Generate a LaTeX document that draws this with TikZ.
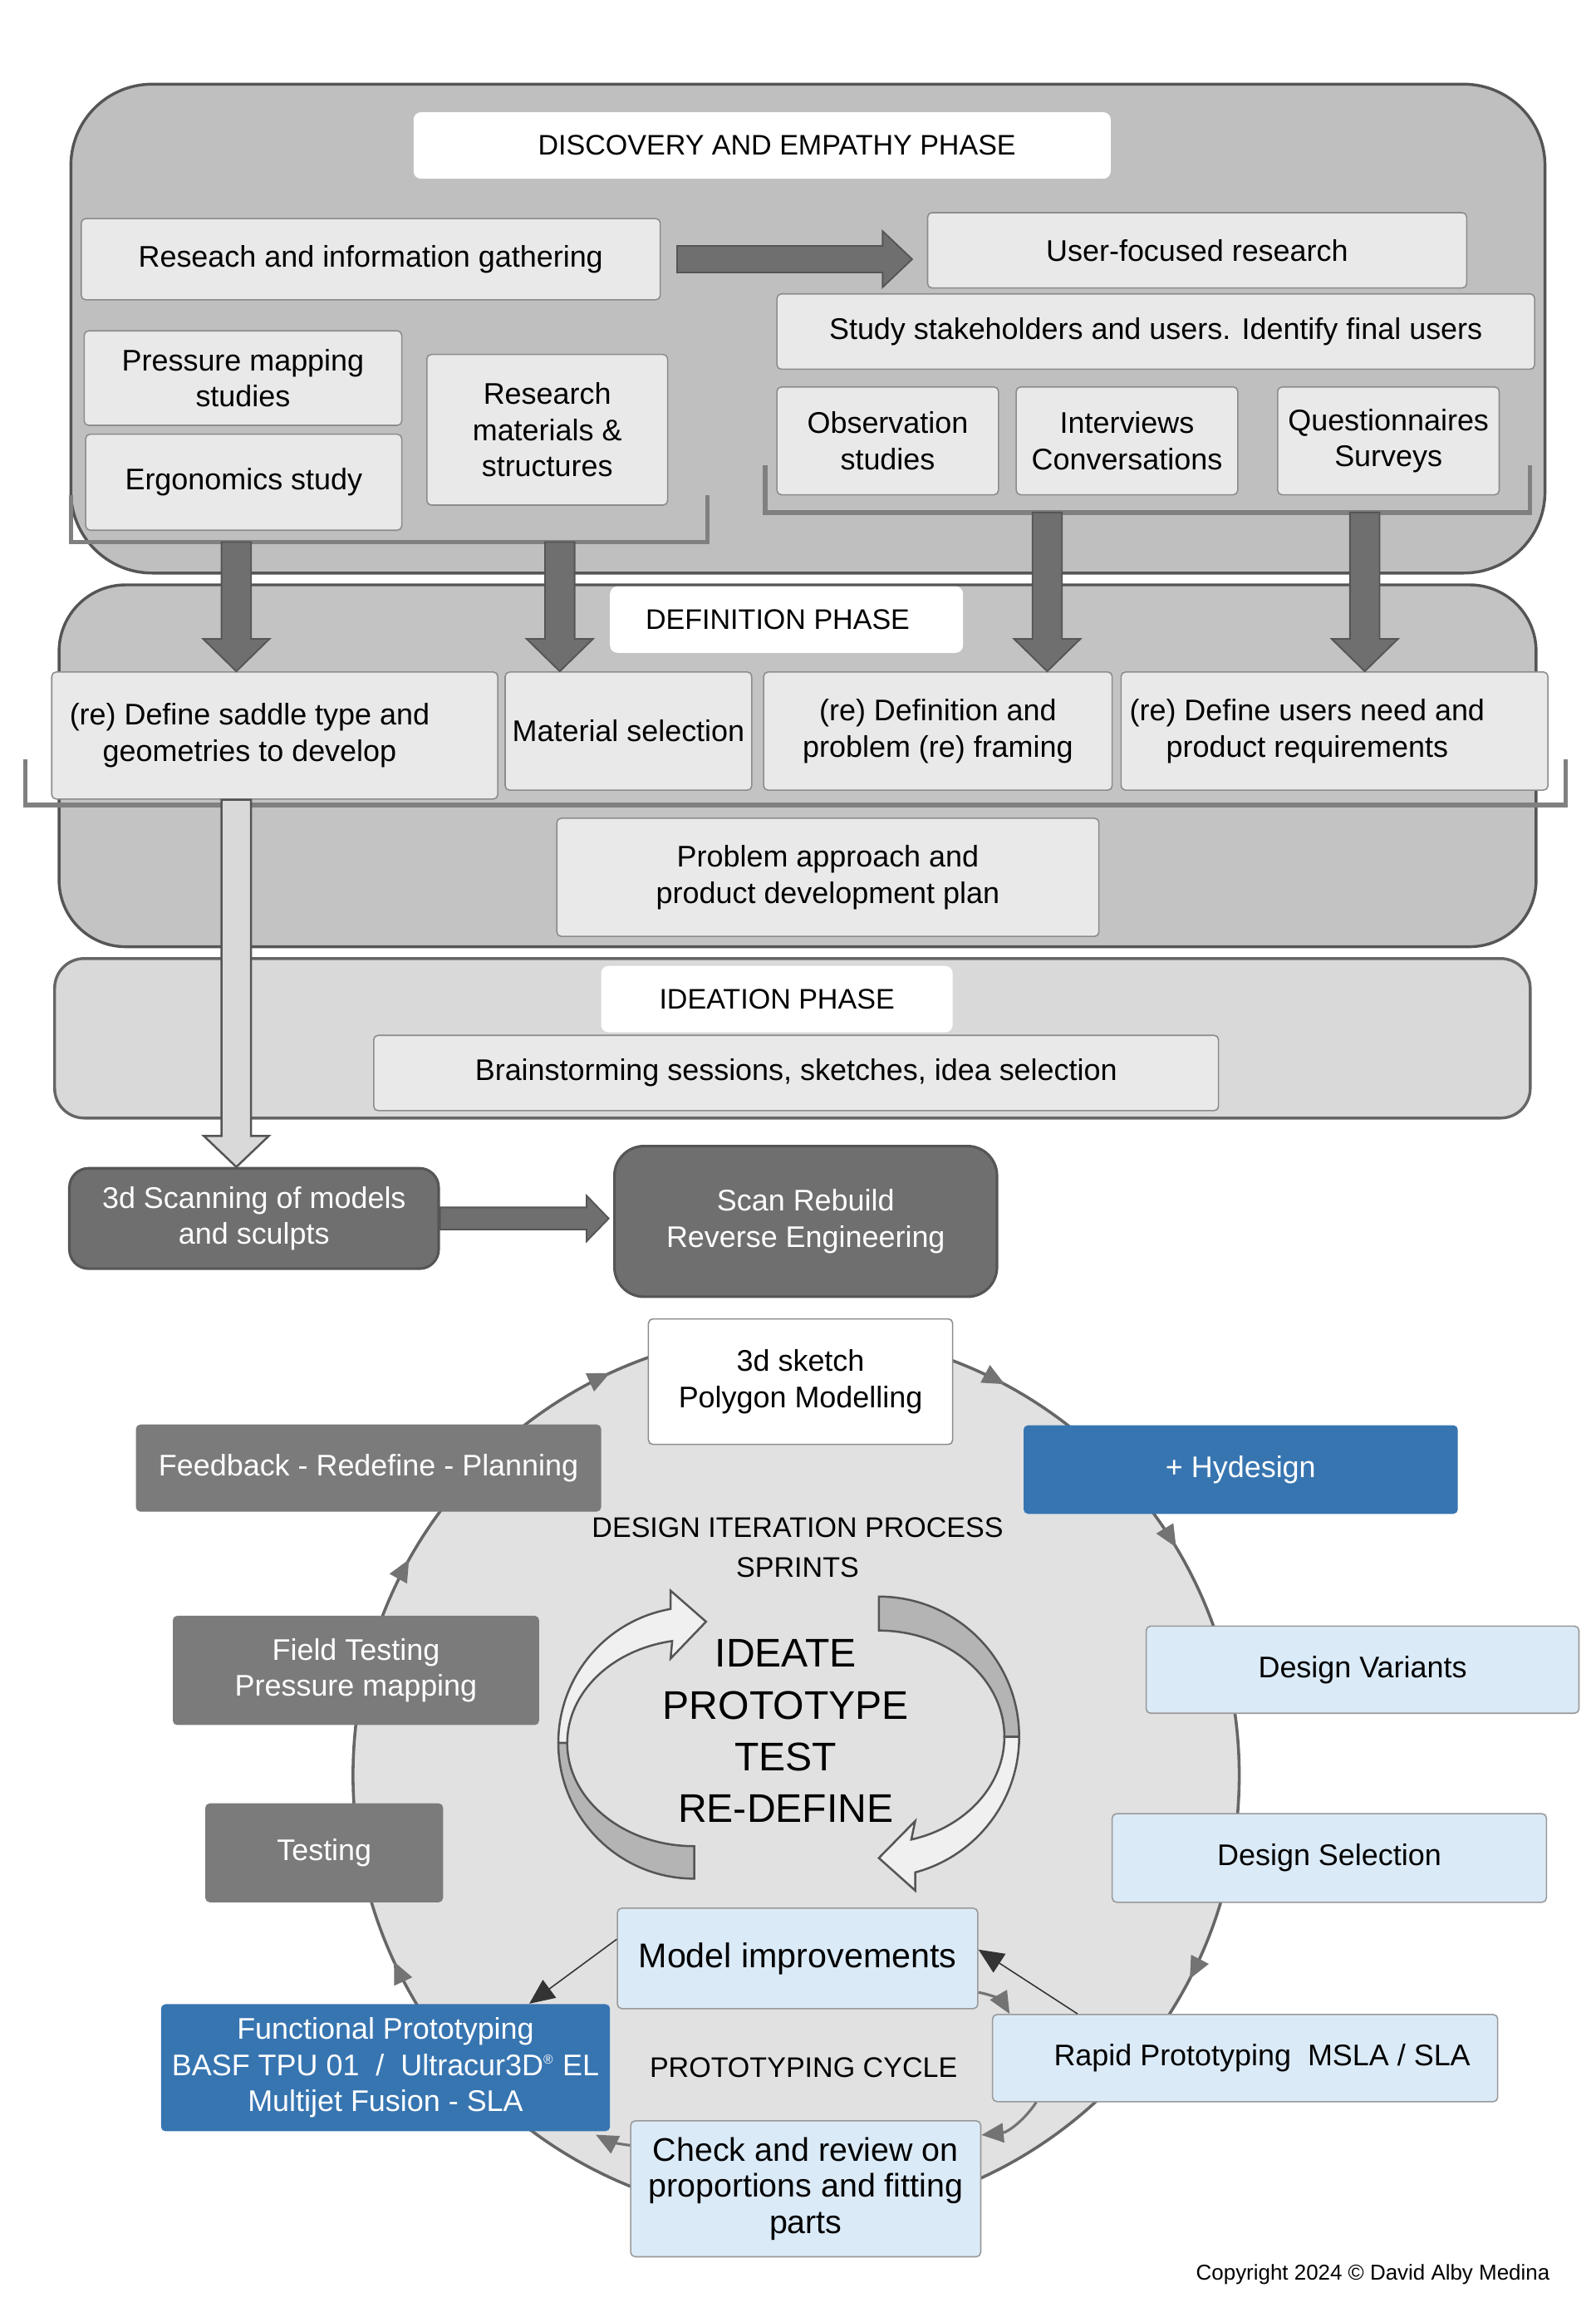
\documentclass[tikz,border=0pt]{standalone}
\usepackage{fontspec}
\setmainfont{Liberation Sans}
\usetikzlibrary{arrows.meta,calc,decorations.markings}
\definecolor{phasegray}{HTML}{BFBFBF}
\definecolor{defgray}{HTML}{C3C3C3}
\definecolor{ideagray}{HTML}{D9D9D9}
\definecolor{itemgray}{HTML}{E9E9E9}
\definecolor{edgegray}{HTML}{555555}
\definecolor{arrowgray}{HTML}{6F6F6F}
\definecolor{darkbox}{HTML}{7B7B7B}
\definecolor{hyblue}{HTML}{3775B1}
\definecolor{paleblue}{HTML}{DBEAF7}
\definecolor{ringgray}{HTML}{E1E1E1}
\definecolor{ribbongray}{HTML}{B4B4B4}
\definecolor{ribbonlight}{HTML}{F0F0F0}
\newcommand{\boxfont}{\fontsize{11.5}{13.9}\selectfont}
\newcommand{\capfont}{\fontsize{10.9}{15.4}\selectfont}
\tikzset{
  sz/.style 2 args={minimum width=#1*0.2mm, minimum height=#2*0.2mm},
  phasebox/.style={draw=edgegray, line width=1.1pt, inner sep=0pt},
  phasetitle/.style={fill=white, rounded corners=1mm, inner sep=0pt, font=\capfont},
  itembox/.style={fill=itemgray, draw=black!45, line width=0.5pt, rounded corners=0.6mm, align=center, inner sep=0pt, font=\boxfont},
  plainbox/.style={itembox, fill=white},
  greybox/.style={fill=darkbox, text=white, rounded corners=0.6mm, align=center, inner sep=0pt, font=\boxfont},
  scanbox/.style={fill=arrowgray, draw=edgegray, line width=1pt, text=white, align=center, inner sep=0pt, font=\boxfont},
  bluebox/.style={fill=hyblue, text=white, rounded corners=0.6mm, align=center, inner sep=0pt, font=\boxfont},
  palebox/.style={fill=paleblue, draw=black!40, line width=0.5pt, rounded corners=0.6mm, align=center, inner sep=0pt, font=\boxfont},
  captext/.style={align=center, inner sep=0pt, font=\capfont},
  bracketline/.style={draw=black!50, line width=0.6mm},
  blockfill/.style={fill=arrowgray, draw=edgegray, line width=0.6pt},
  lightblock/.style={fill=ideagray, draw=edgegray, line width=0.8pt},
  vblock/.style n args={3}{to path={
    ($(\tikztostart)+(-#1,0)$) -- ($(\tikztotarget)+(-#1,-#3)$) -- ($(\tikztotarget)+(-#2,-#3)$) -- (\tikztotarget)
    -- ($(\tikztotarget)+(#2,-#3)$) -- ($(\tikztotarget)+(#1,-#3)$) -- ($(\tikztostart)+(#1,0)$) -- cycle}},
  hblock/.style n args={3}{to path={
    ($(\tikztostart)+(0,-#1)$) -- ($(\tikztotarget)+(-#3,-#1)$) -- ($(\tikztotarget)+(-#3,-#2)$) -- (\tikztotarget)
    -- ($(\tikztotarget)+(-#3,#2)$) -- ($(\tikztotarget)+(-#3,#1)$) -- ($(\tikztostart)+(0,#1)$) -- cycle}},
  ringpath/.style={fill=ringgray, draw=black!60, line width=0.4mm},
  ringtip/.tip={Triangle[length=3mm,width=2.6mm]},
  ribbonback/.style={fill=ribbongray, draw=edgegray, line width=0.8pt},
  ribbonfront/.style={fill=ribbonlight, draw=edgegray, line width=0.8pt},
  darkarrow/.style={draw=black!80, line width=0.5pt, -{Triangle[length=3.4mm,width=3mm]}},
  greyarrow/.style={draw=black!55, line width=1pt, -{Triangle[length=3mm,width=2.6mm]}}
}

\begin{document}
\begin{tikzpicture}[x=0.2mm,y=-0.2mm]
\useasboundingbox (0,0) rectangle (1080,1568.8);
% \draw[help lines,step=100] (0,0) grid (1080,1568);
% discovery and empathy phase
\node (disc) [phasebox, fill=phasegray, rounded corners=11mm, sz={998}{331}] at (547,222.5) {};
\node (disctitle) [phasetitle, sz={472}{45}] at (516,98.5) {\hspace*{4mm}DISCOVERY AND EMPATHY PHASE};
\node (gather) [itembox, sz={392}{55}] at (251,175.5) {Reseach and information gathering};
\node (user) [itembox, sz={365}{51}] at (810.5,169.5) {User-focused research};
\node (stake) [itembox, sz={513}{51}] at (782.5,224.5) {Study stakeholders and users. Identify final users};
\node (press) [itembox, sz={215}{64}] at (164.5,256) {Pressure mapping\\studies};
\node (ergo) [itembox, sz={214}{65}] at (165,326.5) {Ergonomics study};
\node (mater) [itembox, sz={163}{102}] at (370.5,291) {Research\\materials \&\\structures};
\node (obs) [itembox, sz={150}{73}] at (601,298.5) {Observation\\studies};
\node (inter) [itembox, sz={150}{73}] at (763,298.5) {Interviews\\Conversations};
\node (quest) [itembox, sz={150}{73}] at (940,298.5) {Questionnaires\\Surveys};
%
\draw[bracketline] (48,335) -- (48,367) -- (479,367) -- (479,335);
\draw[bracketline] (518,315) -- (518,347) -- (1036,347) -- (1036,315);
\draw[blockfill, hblock={9}{19}{20}] ($(gather.east)+(11,0)$) to ($(gather.east -| user.west)+(-10,0)$);

% definition phase
\node (defn) [phasebox, fill=defgray, rounded corners=9mm, sz={1000}{245}] at (540,518.5) {};
\node (deftitle) [phasetitle, sz={239}{45}] at (532.5,419.5) {DEFINITION PHASE\hspace*{2.4mm}};
\node (saddle) [itembox, sz={302}{86}] at (186,498) {(re) Define saddle type and\hspace*{6.8mm}\\geometries to develop\hspace*{6.8mm}};
\node (matsel) [itembox, sz={167}{80}] at (425.5,495) {Material selection};
\node (frame) [itembox, sz={236}{80}] at (635,495) {(re) Definition and\\problem (re) framing};
\node (needs) [itembox, sz={289}{80}] at (903.5,495) {(re) Define users need and\hspace*{7.4mm}\\product requirements\hspace*{7.4mm}};
\node (plan) [itembox, sz={367}{80}] at (560.5,594) {Problem approach and\\product development plan};
\draw[bracketline] (17,514) -- (17,545) -- (1060,545) -- (1060,514);
%
\coordinate (b1) at (160,367);
\coordinate (b2) at (379,367);
\coordinate (b3) at (709,347);
\coordinate (b4) at (924,347);
\draw[blockfill, vblock={10}{22.5}{22}] (b1) to (b1 |- saddle.north);
\draw[blockfill, vblock={10}{22.5}{22}] (b2) to (b2 |- matsel.north);
\draw[blockfill, vblock={10}{22.5}{22}] (b3) to (b3 |- frame.north);
\draw[blockfill, vblock={10}{22.5}{22}] (b4) to (b4 |- needs.north);

% ideation phase
\node (idea) [phasebox, fill=ideagray, draw=black!60, rounded corners=4mm, sz={999}{108}] at (536.5,703) {};
\node (ideatitle) [phasetitle, sz={238}{45}] at (526,676.5) {IDEATION PHASE};
\node (brain) [itembox, sz={572}{51}] at (539,726.5) {Brainstorming sessions, sketches, idea selection};

% scanning
\node (scan) [scanbox, rounded corners=2.6mm, sz={250}{68}] at (172,825) {3d Scanning of models\\and sculpts};
\node (rebuild) [scanbox, rounded corners=4mm, sz={259}{102}] at (545.5,827) {Scan Rebuild\\Reverse Engineering};
\coordinate (sd) at ([xshift=-5.2mm]saddle.south);
\draw[lightblock, vblock={10}{22}{21}] (sd) to (sd |- scan.north);
\draw[blockfill, hblock={7.5}{15.5}{15}] (scan.east) to ($(scan.east -| rebuild.west)+(-3,0)$);

% design iteration cycle
\draw[ringpath, postaction=decorate, decoration={markings,
  mark=at position 0.076 with {\arrow[black!55]{ringtip}},
  mark=at position 0.431 with {\arrow[black!55]{ringtip}},
  mark=at position 0.581 with {\arrow[black!55]{ringtip}},
  mark=at position 0.681 with {\arrow[black!55]{ringtip}},
  mark=at position 0.828 with {\arrow[black!55]{ringtip}},
  mark=at position 0.914 with {\arrow[black!55]{ringtip}}}]
  (839,1202) arc[start angle=0, end angle=360, radius=300];
%
\node (sketch) [plainbox, sz={206}{85}] at (542,935.5) {3d sketch\\Polygon Modelling};
\node (feed) [greybox, sz={315}{59}] at (249.5,994) {Feedback - Redefine - Planning};
\node (hyd) [bluebox, sz={294}{60}] at (840,995) {+ Hydesign};
\node (iter) [captext] at (540,1048) {DESIGN ITERATION PROCESS\\SPRINTS};
\node (field) [greybox, sz={248}{74}] at (241,1131) {Field Testing\\Pressure mapping};
\node (test) [greybox, sz={161}{67}] at (219.5,1254.5) {Testing};
\node (variant) [palebox, sz={293}{59}] at (922.5,1130.5) {Design Variants};
\node (select) [palebox, sz={294}{60}] at (900,1258) {Design Selection};
%
% ribbon arrows round the sprint words
\filldraw[ribbonback] (595,1081) arc[start angle=-90, end angle=0, radius=95] -- (680,1176)
  arc[start angle=0, end angle=-90, x radius=85, y radius=72] -- cycle;
\filldraw[ribbonfront] (690,1176) arc[start angle=0, end angle=75, radius=95] -- (619.6,1280) -- (595,1258)
  -- (619.6,1233) -- (617,1245.5) arc[start angle=75, end angle=0, x radius=85, y radius=72] -- cycle;
\filldraw[ribbonback] (470,1272) arc[start angle=90, end angle=180, radius=92] -- (384,1180)
  arc[start angle=180, end angle=90, x radius=86, y radius=70] -- cycle;
\filldraw[ribbonfront] (378,1180) arc[start angle=180, end angle=260, radius=92] -- (454,1077) -- (478,1098)
  -- (454,1123) -- (455.1,1111.1) arc[start angle=260, end angle=180, x radius=86, y radius=70] -- cycle;
\node (sprint) [align=center, inner sep=0pt, font=\fontsize{15.4}{19.9}\selectfont] at (532,1172) {IDEATE\\PROTOTYPE\\TEST\\RE-DEFINE};

% prototyping cycle
\node (improve) [palebox, sz={244}{68}, font=\fontsize{13.2}{15}\selectfont] at (540,1326) {Model improvements};
\node (func) [bluebox, sz={304}{86}] at (261,1400) {Functional Prototyping\\BASF TPU 01~~/~~Ultracur3D\textsuperscript{\tiny®} EL\\Multijet Fusion - SLA};
\node (pcyc) [captext] at (544,1400) {PROTOTYPING CYCLE};
\node (rapid) [palebox, sz={342}{59}] at (843,1393.5) {\hspace*{4.6mm}Rapid Prototyping~~MSLA / SLA};
\node (check) [palebox, sz={237}{92}, font=\fontsize{12.6}{14}\selectfont] at (545.5,1482) {Check and review on\\proportions and fitting\\parts};
%
\draw[darkarrow] ([yshift=2.6mm]improve.west) -- ([xshift=-11mm]func.north east);
\draw[darkarrow] ([xshift=11.6mm]rapid.north west) -- ([yshift=1.2mm]improve.east);
\draw[greyarrow] ([yshift=-4.6mm]improve.east) to[bend left=25] ([xshift=2.4mm]rapid.north west);
\draw[greyarrow] ([xshift=6mm]rapid.south west) to[bend left=25] ([yshift=-2mm]check.north east);
\draw[greyarrow] ([yshift=-3.4mm]check.north west) to[bend left=10] ([xshift=-2mm,yshift=-0.4mm]func.south east);

\node (copy) [inner sep=0pt, font=\fontsize{8.3}{10}\selectfont] at (929.5,1540) {Copyright 2024 © David Alby Medina};
\end{tikzpicture}
\end{document}
